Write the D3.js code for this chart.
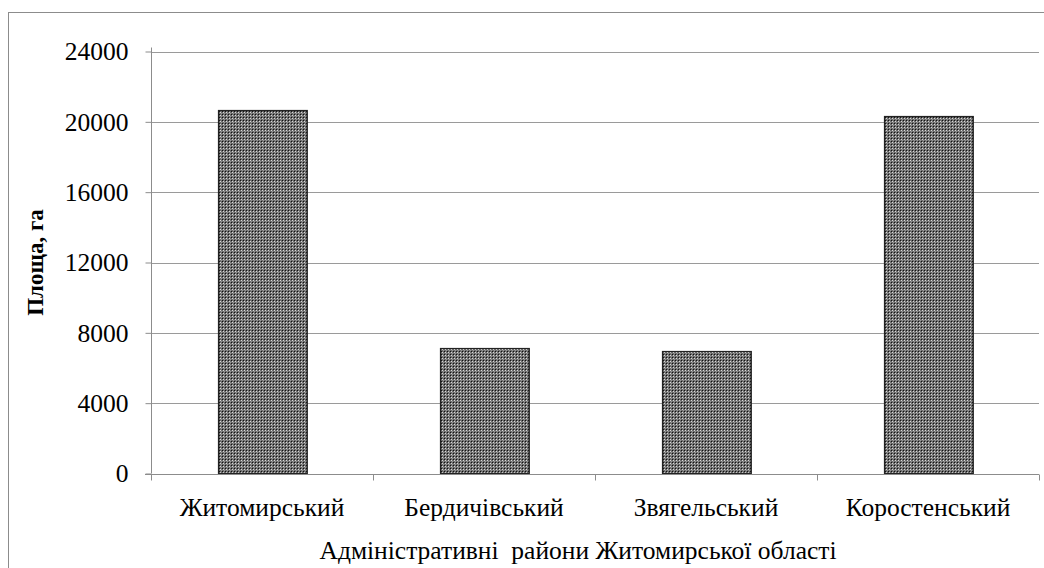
<!DOCTYPE html>
<html>
<head>
<meta charset="utf-8">
<script src="https://cdn.jsdelivr.net/npm/d3@7"></script>
<style>
body { margin: 0; background: #fff; }
text { font-family: "Liberation Serif", "Times New Roman", serif; fill: #000; }
</style>
</head>
<body>
<div id="chart"></div>
<script>
const width = 1044, height = 568;

// дані
const districts = ["Житомирський", "Бердичівський", "Звягельський", "Коростенський"];
const area = [20650, 7150, 6950, 20350];
const yTicks = [0, 4000, 8000, 12000, 16000, 20000, 24000];

const margin = {top: 51.5, left: 151, right: 5, bottom: 94.5};
const fs = "25.5px";

let svg = d3.select("#chart")
	.append("svg")
	.attr("width", width)
	.attr("height", height);

// заливка стовпців
let defs = svg.append("defs");
let pat = defs.append("pattern")
	.attr("id", "dots")
	.attr("patternUnits", "userSpaceOnUse")
	.attr("width", 3)
	.attr("height", 3);
pat.append("rect").attr("width", 3).attr("height", 3).attr("fill", "#6c6c6c");
pat.append("rect").attr("x", 0).attr("y", 0).attr("width", 1).attr("height", 1).attr("fill", "#111");
pat.append("rect").attr("x", 1).attr("y", 1).attr("width", 1).attr("height", 1).attr("fill", "#d8d8d8");
pat.append("rect").attr("x", 2).attr("y", 2).attr("width", 1).attr("height", 1).attr("fill", "#999");

// рамка
svg.append("rect")
	.attr("x", 8.5).attr("y", 12.5)
	.attr("width", 1100).attr("height", 600)
	.attr("fill", "none")
	.attr("stroke", "#8c8c8c")
	.attr("stroke-width", 1);

const x = d3.scaleBand()
	.domain(districts)
	.range([margin.left, width - margin.right])
	.paddingInner(0.6)
	.paddingOuter(0.3);

const y = d3.scaleLinear()
	.domain([0, 24000])
	.range([height - margin.bottom, margin.top]);

// сітка
svg.append("g")
	.selectAll("line")
	.data(yTicks.filter(d => d > 0))
	.enter()
	.append("line")
	.attr("x1", margin.left)
	.attr("x2", width - margin.right)
	.attr("y1", d => Math.round(y(d)) + 0.5)
	.attr("y2", d => Math.round(y(d)) + 0.5)
	.style("stroke", "#9a9a9a")
	.style("stroke-width", 1);

// стовпці
svg.append("g")
	.selectAll("rect")
	.data(area)
	.enter()
	.append("rect")
	.attr("x", (d, i) => Math.round(x(districts[i])) + 0.5)
	.attr("y", d => Math.round(y(d)) + 0.5)
	.attr("width", x.bandwidth())
	.attr("height", d => y(0) - Math.round(y(d)) - 0.5)
	.style("fill", "url(#dots)")
	.style("stroke", "#222")
	.style("stroke-width", 1.2);

// вісь Y
let yAxis = svg.append("g")
	.attr("transform", "translate(" + (margin.left + 0.5) + ",0)")
	.call(d3.axisLeft(y).tickValues(yTicks).tickSize(6).tickPadding(17).tickFormat(d3.format("d")));
yAxis.selectAll("text").style("font-size", fs);

// вісь X
const bounds = d3.range(districts.length + 1);
const step = x.step();
let xAxis = svg.append("g")
	.attr("transform", "translate(0," + (Math.round(y(0)) + 0.5) + ")");
xAxis.append("line")
	.attr("x1", margin.left - 6).attr("x2", width - margin.right)
	.style("stroke", "#8c8c8c");
xAxis.selectAll(".tk")
	.data(bounds)
	.enter()
	.append("line")
	.attr("class", "tk")
	.attr("x1", i => Math.round(margin.left + i * step) + 0.5)
	.attr("x2", i => Math.round(margin.left + i * step) + 0.5)
	.attr("y1", 0).attr("y2", 6)
	.style("stroke", "#8c8c8c");
xAxis.selectAll(".lbl")
	.data(districts)
	.enter()
	.append("text")
	.attr("class", "lbl")
	.attr("x", d => x(d) + x.bandwidth() / 2)
	.attr("y", 41)
	.attr("text-anchor", "middle")
	.style("font-size", fs)
	.text(d => d);

svg.selectAll(".domain").style("stroke", "#8c8c8c");
yAxis.selectAll(".tick line").style("stroke", "#8c8c8c");
yAxis.select(".domain").attr("d", "M0," + (margin.top - 4) + "V" + y(0));

// підписи осей
svg.append("text")
	.attr("x", 578)
	.attr("y", 559)
	.attr("text-anchor", "middle")
	.style("font-size", fs)
	.attr("xml:space", "preserve")
	.text("Адміністративні  райони Житомирської області");

svg.append("text")
	.attr("transform", "translate(43," + (y(12000)) + ") rotate(-90)")
	.attr("text-anchor", "middle")
	.style("font-size", "23px")
	.style("font-weight", "bold")
	.text("Площа, га");
</script>
</body>
</html>
